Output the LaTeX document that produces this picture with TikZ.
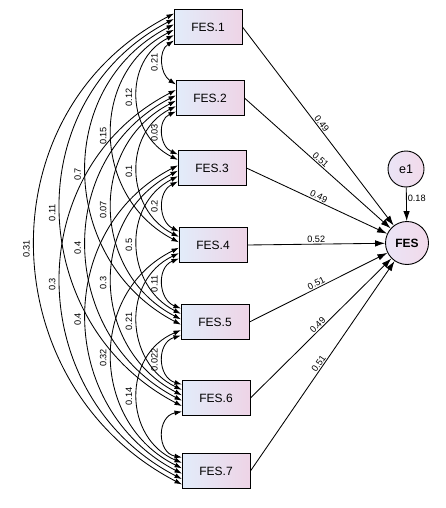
\documentclass[tikz,border=0pt]{standalone}
\usepackage{fontspec}
\setmainfont{Liberation Sans}
\usetikzlibrary{arrows.meta}
\definecolor{boxL}{RGB}{226,236,250}
\definecolor{boxR}{RGB}{238,212,230}
\definecolor{cirL}{RGB}{234,228,246}
\definecolor{cirR}{RGB}{242,218,234}
\begin{document}
\begin{tikzpicture}[x=1pt,y=1pt,
  box/.style={draw, line width=0.9pt, minimum width=68pt, minimum height=35pt, left color=boxL, right color=boxR, font=\fontsize{12}{14}\selectfont, inner sep=0pt},
  lat/.style={circle, draw, line width=0.9pt, left color=cirL, right color=cirR, inner sep=0pt},
  cov/.style={line width=0.85pt, {Latex[length=7.5pt,width=5pt]}-{Latex[length=7.5pt,width=5pt]}},
  reg/.style={line width=0.85pt, -{Latex[length=10pt,width=6.5pt]}},
  lab/.style={font=\fontsize{9.2}{11}\selectfont, inner sep=1pt}]
\useasboundingbox (0,0) rectangle (445,-508);
\def\YC{{-27,-98,-168,-245,-322,-398,-471}}
\def\XL{{174,176,178,179,181,182,182}}
% boxes
\node[box] (b1) at (208,-27) {FES.1};
\node[box] (b2) at (210,-98) {FES.2};
\node[box] (b3) at (212,-168) {FES.3};
\node[box] (b4) at (213,-245) {FES.4};
\node[box] (b5) at (215,-322) {FES.5};
\node[box] (b6) at (216,-398) {FES.6};
\node[box] (b7) at (216,-471) {FES.7};
% latent and error
\node[lat, minimum size=43pt, font=\bfseries\fontsize{12}{14}\selectfont] (fes) at (407,-243) {FES};
\node[lat, minimum size=36pt, font=\fontsize{12.5}{14}\selectfont] (e1) at (406,-169) {e1};
% attachment points on the left sides of the boxes
\foreach \k in {1,...,7}{
  \foreach \m in {1,...,7}{
    \ifnum\k=\m\else
      \pgfmathsetmacro\pp{ifthenelse(\m<\k, \k-1-\m, \k+6-\m)}
      \pgfmathsetmacro\yc{\YC[\k-1]}
      \pgfmathsetmacro\yy{\yc+13.5-5.4*\pp}
      \pgfmathsetmacro\xx{\XL[\k-1]}
      \coordinate (p\k-\m) at (\xx,\yy);
    \fi
  }
}
% covariance arcs
\foreach \i/\j in {1/2,1/3,1/4,1/5,1/6,1/7,2/3,2/4,2/5,2/6,2/7,3/4,3/5,3/6,3/7,4/5,4/6,4/7,5/6,5/7,6/7}{
  \pgfmathsetmacro\pa{\i+6-\j}
  \pgfmathsetmacro\pb{\j-1-\i}
  \pgfmathsetmacro\yca{\YC[\i-1]}
  \pgfmathsetmacro\ycb{\YC[\j-1]}
  \pgfmathsetmacro\ya{\yca+13.5-5.4*\pa}
  \pgfmathsetmacro\yb{\ycb+13.5-5.4*\pb}
  \pgfmathsetmacro\xa{\XL[\i-1]}
  \pgfmathsetmacro\xb{\XL[\j-1]}
  \pgfmathsetmacro\xm{(\xa+\xb)/2}
  \pgfmathsetmacro\xlft{163-25.6*(\j-\i-1)}
  \pgfmathsetmacro\ss{\xm-\xlft}
  \pgfmathsetmacro\cc{(\ya-\yb)/2}
  \pgfmathsetmacro\rr{\ss/\cc}
  \pgfmathsetmacro\al{2*atan(\rr)}
  \pgfmathsetmacro\dd{2/3*(\cc+\rr*\ss)}
  \draw[cov] (p\i-\j) to[out=270-\al, in=90+\al, distance=\dd pt] (p\j-\i);
}
% covariance labels
\foreach \i/\j/\lab in {1/2/0.21,1/3/0.12,1/4/0.15,1/5/0.7,1/6/0.11,1/7/0.31,2/3/0.03,2/4/0.1,2/5/0.07,2/6/0.4,2/7/0.3,3/4/0.2,3/5/0.5,3/6/0.3,3/7/0.4,4/5/0.11,4/6/0.21,4/7/0.32,5/6/0.022,5/7/0.14}{
  \pgfmathsetmacro\yca{\YC[\i-1]}
  \pgfmathsetmacro\ycb{\YC[\j-1]}
  \pgfmathsetmacro\ym{(\yca+\ycb)/2}
  \pgfmathsetmacro\xlft{163-25.6*(\j-\i-1)}
  \node[lab, rotate=90] (c\i\j) at (\xlft-8.5,\ym) {\lab};
}
% regressions
\foreach \k/\lab in {1/0.49,2/0.51,3/0.49,4/0.52,5/0.51,6/0.49,7/0.51}{
  \draw[reg] (b\k.east) -- node[lab, sloped, above, pos=0.5] {\lab} (fes);
}
\draw[reg] (e1) -- node[lab, right, pos=0.32] {0.18} (fes);
\end{tikzpicture}
\end{document}
